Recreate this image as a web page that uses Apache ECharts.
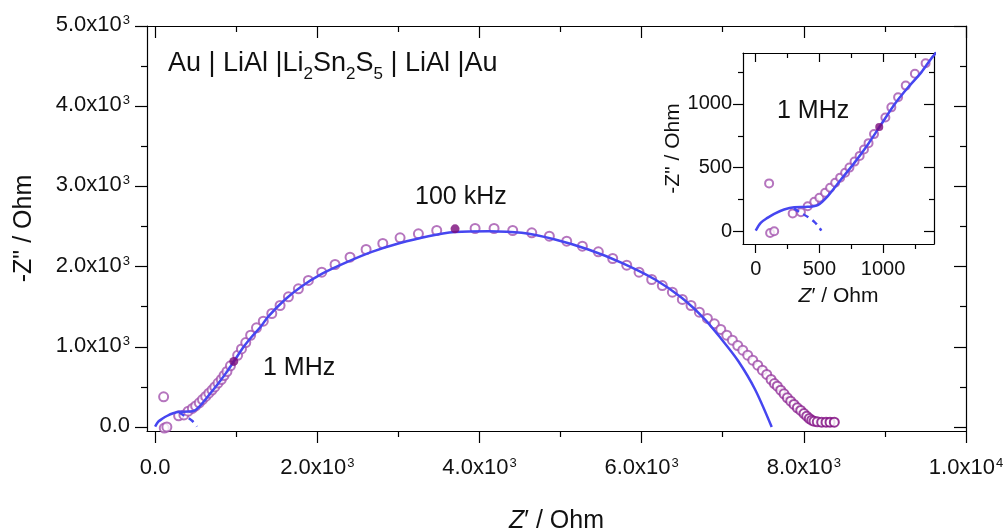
<!DOCTYPE html>
<html>
<head>
<meta charset="utf-8">
<script src="https://cdn.jsdelivr.net/npm/echarts@6/dist/echarts.min.js"></script>
<style>
html, body { margin: 0; padding: 0; background: #fff; }
#container { width: 1006px; height: 532px; }
</style>
</head>
<body>
<div id="container"></div>
<script>
// measured impedance, Z' and -Z'' in Ohm (high -> low frequency)
var zRe = [105, 113, 145, 290, 355, 408, 460, 500, 545, 584, 624, 663, 702, 736, 776, 816, 850, 886, 929,
    1018, 1065, 1118, 1178, 1250, 1334, 1439, 1541, 1644, 1767, 1890, 2055, 2219, 2404, 2602, 2808, 3021,
    3247, 3473, 3946, 4180, 4410, 4645, 4862, 5076, 5269, 5466, 5643, 5816, 5968, 6124, 6255, 6379, 6502,
    6609, 6712, 6811, 6897, 6976, 7050, 7119, 7185, 7247, 7308, 7370, 7432, 7489, 7543, 7596, 7637, 7673,
    7715, 7756, 7797, 7838, 7879, 7920, 7962, 8002, 8036, 8068, 8097, 8126, 8166, 8220, 8274, 8323, 8376];
var zIm = [376, -13, 0, 139, 150, 197, 231, 263, 302, 342, 381, 421, 460, 500, 547, 592, 642, 692, 763,
    894, 973, 1052, 1144, 1237, 1320, 1415, 1515, 1623, 1723, 1827, 1930, 2026, 2117, 2213, 2288, 2359,
    2409, 2450, 2475, 2475, 2450, 2421, 2379, 2317, 2254, 2184, 2101, 2018, 1930, 1839, 1764, 1681, 1590,
    1515, 1431, 1353, 1287, 1216, 1145, 1082, 1016, 958, 895, 833, 771, 708, 655, 592, 542, 509,
    459, 414, 364, 322, 281, 239, 206, 168, 135, 106, 85, 73, 65, 60, 60, 60, 60];

// equivalent circuit fit
var fitRe = [0, 39, 92, 145, 223, 302, 408, 487, 566, 671, 776, 882, 987, 1092, 1197, 1302, 1397,
    1603, 1809, 2055, 2343, 2672, 3000, 3370, 3699, 4110, 4521, 4932, 5343, 5755, 6165, 6494, 6782,
    6988, 7193, 7399, 7604];
var fitIm = [5, 66, 105, 137, 171, 189, 192, 205, 276, 408, 539, 684, 842, 1000, 1131, 1250, 1380,
    1590, 1756, 1910, 2047, 2184, 2288, 2379, 2430, 2442, 2421, 2338, 2213, 2047, 1839, 1611, 1340,
    1091, 820, 468, 0];
var dashRe = [300, 345, 410, 460, 490, 515];
var dashIm = [180, 150, 112, 74, 42, 5];

// highlighted frequencies: 1 MHz, 100 kHz
var markRe = [970, 3699];
var markIm = [818, 2471];

var xMajor = [0, 2000, 4000, 6000, 8000, 10000];
var xMinor = [1000, 3000, 5000, 7000, 9000];
var yMajor = [0, 1000, 2000, 3000, 4000, 5000];
var yMinor = [500, 1500, 2500, 3500, 4500];
var insetMajor = [0, 500, 1000];
var insetMinor = [250, 750, 1250];

var FONT = 'Liberation Sans';

function pairs(a, b) {
    return a.map(function (v, i) { return [v, b[i]]; });
}

function sciLabel(v) {
    if (v === 0) return '{b|0.0}';
    var e = Math.floor(Math.log10(v) + 1e-9);
    var m = (v / Math.pow(10, e)).toFixed(1);
    return '{b|' + m + 'x10}{s|' + e + '}';
}

var sciRich = {
    b: { fontSize: 22, lineHeight: 24, verticalAlign: 'top', fontFamily: FONT, color: '#111' },
    s: { fontSize: 13, lineHeight: 13, verticalAlign: 'top', fontFamily: FONT, color: '#111', padding: [0, 0, 0, 1] }
};

// labelled axis + minor ticks, mirrored frame side with inward ticks
function frame(dim, grid, min, max, major, minor, big, small, label, name) {
    var lo = dim === 'x' ? 'bottom' : 'left';
    var hi = dim === 'x' ? 'top' : 'right';
    function ax(pos, values, len, inside, line, main) {
        var a = {
            type: 'value', gridIndex: grid, min: min, max: max, position: pos,
            splitLine: { show: false },
            axisLine: { show: line, onZero: false, lineStyle: { color: '#000', width: 1.2 } },
            axisTick: { show: true, inside: inside, length: len, customValues: values,
                lineStyle: { color: '#000', width: 1.2 } },
            axisLabel: main ? label : { show: false }
        };
        if (main) {
            for (var k in name) a[k] = name[k];
        }
        return a;
    }
    return [
        ax(lo, major, big, false, true, true),
        ax(lo, minor, small, false, false, false),
        ax(hi, major, big, true, true, false),
        ax(hi, minor, small, true, false, false)
    ];
}

function plain(v) { return String(v); }

var mainX = frame('x', 0, -100, 10000, xMajor, xMinor, 12, 6,
    { customValues: xMajor, margin: 26, formatter: sciLabel, rich: sciRich },
    { name: '{i|Z}{n|\u2032 / Ohm}', nameLocation: 'middle', nameGap: 78,
      nameTextStyle: { rich: { i: { fontSize: 25, fontStyle: 'italic', fontFamily: FONT, color: '#111' },
                               n: { fontSize: 25, fontFamily: FONT, color: '#111' } } } });
var mainY = frame('y', 0, -50, 5000, yMajor, yMinor, 12, 6,
    { customValues: yMajor, margin: 17, formatter: sciLabel, rich: sciRich },
    { name: '-Z" / Ohm', nameLocation: 'middle', nameGap: 110,
      nameTextStyle: { fontSize: 25, fontFamily: FONT, color: '#111' } });
var insetX = frame('x', 1, -100, 1400, insetMajor, insetMinor, 9, 5,
    { customValues: insetMajor, margin: 15, formatter: plain, fontSize: 20, fontFamily: FONT, color: '#111' },
    { name: '{i|Z}{n|\u2032 / Ohm}', nameLocation: 'middle', nameGap: 42,
      nameTextStyle: { rich: { i: { fontSize: 21, fontStyle: 'italic', fontFamily: FONT, color: '#111' },
                               n: { fontSize: 21, fontFamily: FONT, color: '#111' } } } });
var insetY = frame('y', 1, -100, 1400, insetMajor, insetMinor, 10, 5,
    { customValues: insetMajor, margin: 11, formatter: plain, fontSize: 20, fontFamily: FONT, color: '#111' },
    { name: '-Z" / Ohm', nameLocation: 'middle', nameGap: 58,
      nameTextStyle: { fontSize: 21, fontFamily: FONT, color: '#111' } });

function seriesFor(ix, size) {
    return [{
        type: 'scatter', xAxisIndex: ix, yAxisIndex: ix,
        data: pairs(zRe, zIm), symbol: 'emptyCircle', symbolSize: size,
        itemStyle: { color: '#a352ae', borderWidth: 1.2 }, z: 2
    }, {
        type: 'line', xAxisIndex: ix, yAxisIndex: ix,
        data: pairs(fitRe, fitIm), smooth: 0.3, showSymbol: false,
        lineStyle: { color: '#4646f0', width: 2.5 }, z: 3
    }, {
        type: 'line', xAxisIndex: ix, yAxisIndex: ix,
        data: pairs(dashRe, dashIm), smooth: 0.3, showSymbol: false,
        lineStyle: { color: '#4646f0', width: 2.5, type: [6, 5] }, z: 3
    }, {
        type: 'scatter', xAxisIndex: ix, yAxisIndex: ix,
        data: pairs(markRe, markIm), symbol: 'circle', symbolSize: size,
        itemStyle: { color: '#7a0a7a' }, z: 4
    }];
}

var chart = echarts.init(document.getElementById('container'));

var option = {
    animation: false,
    backgroundColor: '#fff',
    textStyle: { fontFamily: FONT },
    title: {
        left: 168, top: 50, padding: 0,
        text: '{a|Au | LiAl |Li}{s|2}{a|Sn}{s|2}{a|S}{s|5}{a| | LiAl |Au}',
        textStyle: {
            fontWeight: 'normal',
            rich: {
                a: { fontSize: 27, lineHeight: 30, verticalAlign: 'top', fontWeight: 'normal', fontFamily: FONT, color: '#111' },
                s: { fontSize: 17, lineHeight: 17, verticalAlign: 'top', fontWeight: 'normal', padding: [16, 0, 0, 0], fontFamily: FONT, color: '#111' }
            }
        }
    },
    grid: [
        { left: 147, top: 26, right: 40, bottom: 101, outerBoundsMode: 'none' },
        { left: 743, top: 53, width: 191, height: 191, outerBoundsMode: 'none',
          show: true, backgroundColor: '#fff', borderWidth: 0 }
    ],
    xAxis: mainX.concat(insetX),
    yAxis: mainY.concat(insetY),
    visualMap: {
        type: 'continuous', show: false, dimension: 0, seriesIndex: [0, 4],
        min: 7300, max: 8380, inRange: { color: ['#a352ae', '#7a007a'] }
    },
    graphic: [
        { type: 'text', left: 415, top: 185, style: { text: '100 kHz', font: '25px "Liberation Sans"', fill: '#111' } },
        { type: 'text', left: 263, top: 356, style: { text: '1 MHz', font: '25px "Liberation Sans"', fill: '#111' } },
        { type: 'text', left: 777, top: 99, z: 10, style: { text: '1 MHz', font: '25px "Liberation Sans"', fill: '#111' } }
    ],
    series: seriesFor(0, 9).concat(seriesFor(4, 8))
};
chart.setOption(option);

window.addEventListener('resize', function () {
    chart.resize();
});
</script>
</body>
</html>
